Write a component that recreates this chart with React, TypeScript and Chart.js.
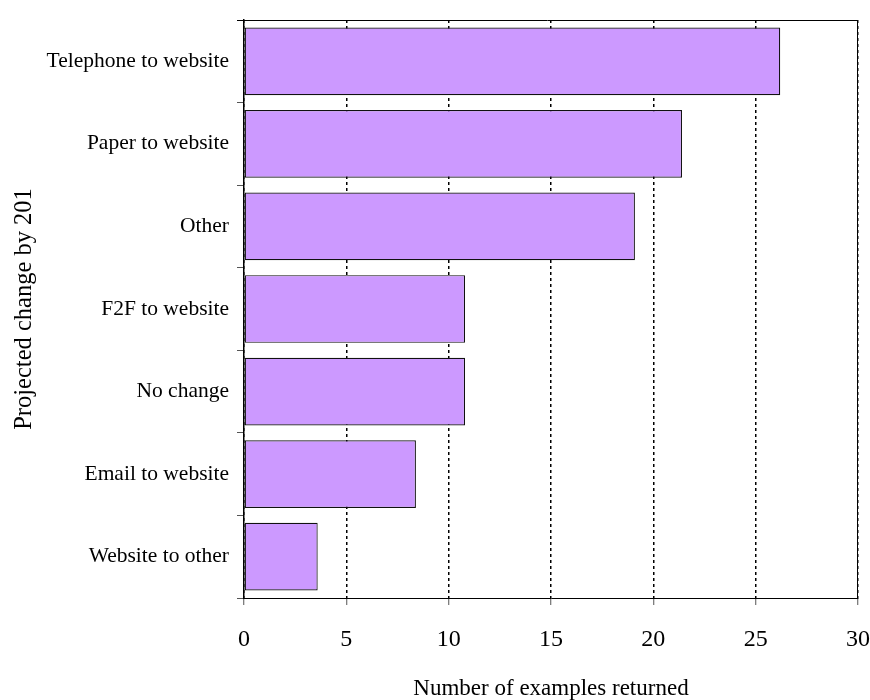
import React, { useEffect, useRef } from 'react';
import { Chart, registerables } from 'chart.js';

Chart.register(...registerables);

const categories = [
  'Telephone to website',
  'Paper to website',
  'Other',
  'F2F to website',
  'No change',
  'Email to website',
  'Website to other',
];
const values = [26.2, 21.4, 19.1, 10.8, 10.8, 8.4, 3.6];
const xMin = 0;
const xMax = 30;
const xStep = 5;
const xTitle = 'Number of examples returned';
const yTitle = 'Projected change by 201';

const FONT = '"Liberation Serif", "Times New Roman", serif';

const framePlugin = {
  id: 'frame',
  afterDraw(chart: any) {
    const { ctx, chartArea: a } = chart;
    ctx.save();
    ctx.strokeStyle = '#000';
    ctx.lineWidth = 1;
    ctx.beginPath();
    ctx.moveTo(a.left - 7, a.top + 0.5);
    ctx.lineTo(a.right, a.top + 0.5);
    ctx.moveTo(a.right - 0.5, a.top);
    ctx.lineTo(a.right - 0.5, a.bottom);
    ctx.stroke();
    ctx.fillStyle = '#000';
    ctx.textAlign = 'center';
    ctx.textBaseline = 'alphabetic';
    ctx.font = '23px ' + FONT;
    ctx.fillText(xTitle, (a.left + a.right) / 2, 695);
    ctx.translate(31, (a.top + a.bottom) / 2);
    ctx.rotate(-Math.PI / 2);
    ctx.font = '24.5px ' + FONT;
    ctx.fillText(yTitle, 0, 0);
    ctx.restore();
  },
};

export default function App() {
  const ref = useRef<HTMLCanvasElement>(null);
  useEffect(() => {
    const chart = new Chart(ref.current as HTMLCanvasElement, {
      type: 'bar',
      data: {
        labels: categories,
        datasets: [
          {
            data: values,
            backgroundColor: '#CC99FF',
            borderColor: '#111',
            borderWidth: 1.2,
            borderSkipped: false,
            categoryPercentage: 1,
            barPercentage: 0.82,
          },
        ],
      },
      options: {
        indexAxis: 'y',
        animation: false,
        responsive: false,
        maintainAspectRatio: false,
        layout: { padding: { left: 0, top: 20, right: 12, bottom: 0 } },
        plugins: { legend: { display: false }, tooltip: { enabled: false } },
        scales: {
          x: {
            type: 'linear',
            min: xMin,
            max: xMax,
            afterFit: (s: any) => {
              s.height = 102;
              s.paddingLeft = 0;
              s.paddingRight = 0;
            },
            ticks: {
              stepSize: xStep,
              color: '#000',
              font: { family: FONT, size: 24 },
              padding: 20,
            },
            grid: {
              color: '#000',
              lineWidth: 1.5,
              tickLength: 7,
              tickColor: '#555',
              tickWidth: 1,
              tickBorderDash: [],
            },
            border: { display: true, color: '#000', width: 1, dash: [3, 3] },
          },
          y: {
            type: 'category',
            afterFit: (s: any) => {
              s.width = 244;
              s.paddingTop = 0;
              s.paddingBottom = 0;
            },
            ticks: {
              color: '#000',
              font: { family: FONT, size: 21.5 },
              padding: 8,
            },
            grid: {
              offset: true,
              drawOnChartArea: false,
              drawTicks: true,
              tickLength: 7,
              tickColor: '#555',
              tickWidth: 1,
            },
            border: { display: true, color: '#000', width: 1.5 },
          },
        },
      },
      plugins: [framePlugin],
    });
    return () => chart.destroy();
  }, []);
  return (
    <div style={{ position: 'fixed', left: 0, top: 0, width: 870, height: 700, background: '#fff' }}>
      <canvas ref={ref} width={870} height={700} style={{ width: 870, height: 700 }} />
    </div>
  );
}
